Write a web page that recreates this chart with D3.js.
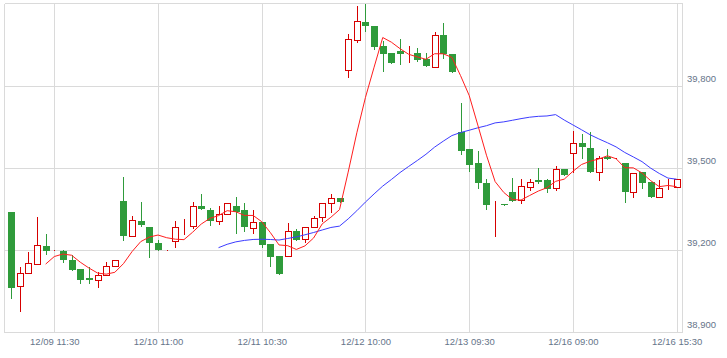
<!DOCTYPE html>
<html>
<head>
<meta charset="utf-8">
<script src="https://cdn.jsdelivr.net/npm/d3@7/dist/d3.min.js"></script>
<style>
  html, body { margin: 0; padding: 0; background: #ffffff; }
  svg { display: block; }
  text { font-family: "Liberation Sans", Arial, sans-serif; font-size: 9.5px; fill: #66758a; }
</style>
</head>
<body>
<svg id="chart" width="727" height="358"></svg>
<script>
// ---- data ----
const days = ["12/09", "12/10", "12/11", "12/12", "12/13", "12/16"];
const sessionTimes = ["09:00", "09:30", "10:00", "10:30", "11:00", "11:30", "12:30",
                      "13:00", "13:30", "14:00", "14:30", "15:00", "15:30"];
const opens = [39338, 39068, 39116, 39149, 39215, 39201, 39197, 39165, 39132, 39099,
               39090, 39109, 39141, 39380, 39251, 39307, 39284, 39226, 39201, 39234,
               39282, 39286, 39361, 39346, 39306, 39333, 39361, 39345, 39280, 39304,
               39223, 39179, 39178, 39271, 39240, 39283, 39321, 39372, 39390, 39855,
               39967, 40032, 40017, 39944, 39918, 39925, 39915, 39918, 39896, 39869,
               39984, 39915, 39630, 39567, 39516, 39446, 39369, 39368, 39412, 39383,
               39429, 39455, 39454, 39425, 39496, 39555, 39591, 39574, 39483, 39539,
               39537, 39519, 39412, 39483, 39449, 39394, 39433, 39430];
const highs = [39338, 39138, 39193, 39321, 39259, 39201, 39201, 39182, 39132, 39140,
               39121, 39156, 39163, 39468, 39324, 39376, 39284, 39238, 39201, 39307,
               39313, 39376, 39406, 39352, 39359, 39372, 39395, 39370, 39345, 39304,
               39223, 39179, 39299, 39278, 39284, 39325, 39372, 39406, 39390, 39989,
               40089, 40097, 40017, 39961, 39918, 39968, 39946, 39936, 39918, 39996,
               40028, 39915, 39738, 39567, 39561, 39460, 39378, 39368, 39463, 39460,
               39460, 39499, 39460, 39507, 39496, 39635, 39624, 39632, 39544, 39570,
               39537, 39519, 39482, 39483, 39449, 39457, 39460, 39460];
const lows = [39024, 38977, 39116, 39149, 39185, 39201, 39155, 39129, 39079, 39081,
              39065, 39109, 39141, 39235, 39251, 39286, 39174, 39200, 39201, 39211,
              39260, 39280, 39349, 39290, 39295, 39333, 39262, 39268, 39264, 39211,
              39143, 39114, 39178, 39235, 39228, 39283, 39305, 39339, 39374, 39833,
              39959, 40000, 39932, 39853, 39883, 39877, 39885, 39889, 39872, 39869,
              39899, 39850, 39552, 39490, 39428, 39350, 39252, 39363, 39380, 39372,
              39418, 39445, 39412, 39420, 39474, 39485, 39537, 39484, 39457, 39532,
              39537, 39376, 39394, 39427, 39392, 39394, 39421, 39430];
const closes = [39063, 39116, 39152, 39218, 39195, 39201, 39162, 39129, 39092, 39089,
                39109, 39141, 39163, 39250, 39310, 39290, 39224, 39200, 39201, 39283,
                39282, 39359, 39349, 39305, 39333, 39372, 39339, 39283, 39304, 39219,
                39173, 39114, 39270, 39235, 39284, 39317, 39372, 39390, 39374, 39968,
                40034, 40018, 39941, 39915, 39883, 39916, 39915, 39893, 39872, 39984,
                39915, 39850, 39561, 39510, 39443, 39366, 39369, 39363, 39380, 39434,
                39449, 39450, 39424, 39496, 39474, 39591, 39575, 39484, 39537, 39532,
                39537, 39411, 39482, 39444, 39392, 39427, 39433, 39460];
const xTickLabels = ["12/09 11:30", "12/10 11:00", "12/11 10:30", "12/12 10:00",
                     "12/13 09:30", "12/16 09:00", "12/16 15:30"];
const yTicks = [38900, 39200, 39500, 39800];
const maShort = 5;
const maLong = 25;

// ---- build ----
const times = [];
days.forEach(d => sessionTimes.forEach(t => times.push(d + " " + t)));
const candles = times.map((t, i) => ({ t, o: opens[i], h: highs[i], l: lows[i], c: closes[i] }));

function movingAverage(n) {
  const out = [];
  for (let i = n - 1; i < closes.length; i++) {
    out.push({ t: times[i], v: d3.mean(closes.slice(i - n + 1, i + 1)) });
  }
  return out;
}

const svg = d3.select("#chart");
const plotL = 4.5, plotR = 682.5, plotT = 3.5, plotB = 332.5;

const x = d3.scalePoint().domain(times).range([11.1, 676.6]);
const y = d3.scaleLinear().domain([38900, 40100]).range([332.3, 3.3]);
const px = v => Math.round(x(v)) + 0.5;
const py = v => Math.round(y(v)) + 0.5;

const grid = svg.append("g").attr("stroke", "#dadada").attr("stroke-width", 1).attr("shape-rendering", "crispEdges");
grid.selectAll("line.h").data(yTicks.concat([40100])).join("line")
  .attr("x1", plotL).attr("x2", plotR)
  .attr("y1", d => py(d)).attr("y2", d => py(d));
grid.selectAll("line.v").data(xTickLabels).join("line")
  .attr("x1", d => px(d)).attr("x2", d => px(d))
  .attr("y1", plotT).attr("y2", plotB);
grid.append("line").attr("x1", plotL).attr("x2", plotL).attr("y1", plotT).attr("y2", plotB);
grid.append("line").attr("x1", plotR).attr("x2", plotR).attr("y1", plotT).attr("y2", plotB);

// y labels (right side)
const yAxis = d3.axisRight(y).tickValues(yTicks).tickSize(0).tickPadding(0)
  .tickFormat(d3.format(","));
const yg = svg.append("g").attr("transform", "translate(687,0)").call(yAxis);
yg.select(".domain").remove();
yg.selectAll("text").attr("dy", null).attr("y", -4.5).attr("x", 0)
  .attr("text-anchor", "start");
yg.attr("font-size", null).attr("font-family", null).attr("fill", null);
yg.selectAll("text").attr("fill", null);

// x labels
const xAxis = d3.axisBottom(x).tickValues(xTickLabels).tickSize(0).tickPadding(0);
const xg = svg.append("g").attr("transform", `translate(0,${plotB})`).call(xAxis);
xg.select(".domain").remove();
xg.selectAll("text").attr("dy", null).attr("y", 12);
xg.attr("font-size", null).attr("font-family", null).attr("fill", null);
xg.selectAll("text").attr("fill", null);

// candles
const green = "#2f9b3b", red = "#d60000";
const cg = svg.append("g").attr("shape-rendering", "crispEdges");
const up = d => d.c >= d.o;
cg.selectAll("line.wick").data(candles).join("line")
  .attr("x1", d => px(d.t)).attr("x2", d => px(d.t))
  .attr("y1", d => Math.round(y(d.h))).attr("y2", d => Math.round(y(d.l)) + 1)
  .attr("stroke", d => up(d) ? red : green).attr("stroke-width", 1);
cg.selectAll("rect.body").data(candles).join("rect")
  .attr("x", d => up(d) ? Math.round(x(d.t)) - 2.5 : Math.round(x(d.t)) - 3)
  .attr("width", d => up(d) ? 6 : 7)
  .attr("y", d => up(d) ? Math.round(y(d.c)) + 0.5 : Math.round(y(d.o)))
  .attr("height", d => up(d) ? Math.max(0, Math.round(y(d.o)) - Math.round(y(d.c)))
                             : Math.max(1, Math.round(y(d.c)) - Math.round(y(d.o))))
  .attr("fill", d => up(d) ? "#ffffff" : green)
  .attr("stroke", d => up(d) ? red : "none")
  .attr("stroke-width", 1);

// moving averages
const line = d3.line().x(d => x(d.t)).y(d => y(d.v));
svg.append("path").datum(movingAverage(maLong)).attr("d", line)
  .attr("fill", "none").attr("stroke", "#3c3cff").attr("stroke-width", 1);
svg.append("path").datum(movingAverage(maShort)).attr("d", line)
  .attr("fill", "none").attr("stroke", "#ff1e1e").attr("stroke-width", 1);
</script>
</body>
</html>
